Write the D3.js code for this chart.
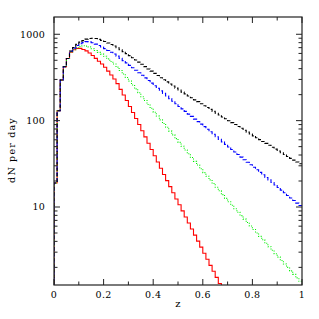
<!DOCTYPE html>
<html>
<head>
<meta charset="utf-8">
<script src="https://cdn.jsdelivr.net/npm/d3@7"></script>
<style>
body { margin: 0; background: #fff; }
text { font-family: "DejaVu Serif", serif; fill: #000; }
</style>
</head>
<body>
<div id="chart"></div>
<script>
// histogram of dN per day in redshift bins of 0.0125

var binWidth = 0.0125
var xTicks = [0, 0.2, 0.4, 0.6, 0.8, 1]
var xTickLabels = ['0', '0.2', '0.4', '0.6', '0.8', '1']
var yTicks = [10, 100, 1000]
var yTickLabels = ['10', '100', '1000']

// first bins are the same for all four curves
var rise = [19, 130, 295, 420, 525]

var redCounts = rise.concat([620, 661, 686, 687, 667, 642, 606, 567, 526, 488, 453,
    415, 374, 337, 304, 268, 230, 198, 171, 146, 124, 106, 90.2,
    76.5, 64.8, 54.8, 46.4, 39.2, 33.2, 28.1, 23.8, 20.2, 17.2, 14.6, 12.4,
    10.6, 9.02, 7.67, 6.53, 5.56, 4.73, 4.03, 3.43, 2.92, 2.48, 2.11, 1.80,
    1.53, 1.30, 1.11, 0.94, 0.80])

var greenCounts = rise.concat([625, 662, 697, 723, 736, 730, 714, 681, 649, 618, 589,
    556, 519, 484, 452, 417, 380, 347, 316, 287, 259, 233, 210,
    189, 171, 154, 139, 125, 113, 102, 92.7, 83.8, 75.7, 68.5, 61.9,
    56.0, 50.6, 45.8, 41.4, 37.4, 33.8, 30.6, 27.7, 25.0, 22.7, 20.6, 18.7,
    16.9, 15.4, 13.9, 12.6, 11.5, 10.5, 9.55, 8.71, 7.94, 7.24, 6.61, 6.03,
    5.50, 5.01, 4.57, 4.17, 3.80, 3.47, 3.16, 2.88, 2.63, 2.40, 2.19, 2.00,
    1.82, 1.66, 1.51, 1.38])

var blueCounts = rise.concat([635, 689, 740, 778, 801, 822, 816, 798, 769, 740, 713,
    683, 650, 619, 590, 558, 526, 495, 466, 437, 409, 383, 358,
    335, 313, 292, 272, 254, 237, 221, 207, 193, 180, 168, 157,
    146, 137, 128, 119, 112, 104, 97.5, 91.2, 85.2, 79.6, 74.4, 69.5,
    65.0, 60.7, 56.8, 53.1, 49.6, 46.3, 43.4, 40.5, 37.8, 35.3, 33.0, 30.9,
    28.9, 27.0, 25.2, 23.6, 22.0, 20.6, 19.2, 18.0, 16.8, 15.7, 14.6, 13.6,
    12.7, 11.9, 11.1, 10.4])

var blackCounts = rise.concat([640, 703, 763, 811, 845, 879, 893, 898, 892, 873, 851,
    825, 792, 761, 731, 698, 663, 629, 597, 566, 534, 504, 476,
    449, 422, 397, 374, 353, 333, 314, 297, 281, 266, 252, 238,
    226, 214, 204, 193, 184, 174, 166, 157, 149, 142, 135, 128,
    122, 116, 110, 105, 99.8, 94.8, 90.2, 85.7, 81.5, 77.5, 73.6, 70.0,
    66.7, 63.4, 60.3, 57.3, 54.5, 51.8, 49.2, 46.8, 44.6, 42.5, 40.5, 38.5,
    36.6, 34.9, 33.2, 31.7])

var series = [
    {name: 'red', counts: redCounts, color: '#ff0000', dash: null},
    {name: 'green', counts: greenCounts, color: '#00ee00', dash: '1,1.5'},
    {name: 'blue', counts: blueCounts, color: '#0000ff', dash: '4,2'},
    {name: 'black', counts: blackCounts, color: '#000000', dash: '3.5,2'}
]

var width = 319
var height = 319
var margin = {top: 17, right: 17, bottom: 34, left: 54}
var plotW = width - margin.left - margin.right
var plotH = height - margin.top - margin.bottom

var x = d3.scaleLinear().domain([0, 1]).range([0, plotW])
var y = d3.scaleLog().domain([1.25, 1585]).range([plotH, 0])

var svg = d3.select('#chart').append('svg')
    .attr('width', width)
    .attr('height', height)

svg.append('defs').append('clipPath')
    .attr('id', 'clip')
    .append('rect')
    .attr('width', plotW)
    .attr('height', plotH)

var g = svg.append('g')
    .attr('transform', 'translate(' + margin.left + ',' + margin.top + ')')

var floor = y.domain()[0] * 0.5

var stepLine = d3.line()
    .x(function(d) { return x(d[0]) })
    .y(function(d) { return y(Math.max(d[1], floor)) })
    .curve(d3.curveStepAfter)

var toPoints = function(counts) {
    var pts = [[0, floor]]
    for (var i = 0; i < counts.length; i++) {
        pts.push([i * binWidth, counts[i]])
    }
    pts.push([counts.length * binWidth, counts[counts.length - 1]])
    return pts
}

var lines = g.append('g').attr('clip-path', 'url(#clip)')
series.forEach(function(s) {
    lines.append('path')
        .attr('d', stepLine(toPoints(s.counts)))
        .attr('fill', 'none')
        .attr('stroke', s.color)
        .attr('stroke-width', 1.1)
        .attr('stroke-dasharray', s.dash)
})

// frame
g.append('rect')
    .attr('width', plotW)
    .attr('height', plotH)
    .attr('fill', 'none')
    .attr('stroke', '#222')
    .attr('stroke-width', 1.2)

// ticks on all four sides, pointing inward
var xMinor = d3.range(0, 1.0001, 0.1)
xMinor.forEach(function(v, i) {
    var len = (i % 2 == 0) ? 6 : 3.5
    g.append('line').attr('x1', x(v)).attr('x2', x(v)).attr('y1', plotH).attr('y2', plotH - len)
        .attr('stroke', '#222')
    g.append('line').attr('x1', x(v)).attr('x2', x(v)).attr('y1', 0).attr('y2', len)
        .attr('stroke', '#222')
})

var yMinor = []
;[1, 10, 100, 1000].forEach(function(dec) {
    for (var k = 1; k <= 9; k++) {
        var v = dec * k
        if (v >= y.domain()[0] && v <= y.domain()[1]) yMinor.push(v)
    }
})
yMinor.forEach(function(v) {
    var major = yTicks.indexOf(v) >= 0
    var len = major ? 6 : 3.5
    g.append('line').attr('x1', 0).attr('x2', len).attr('y1', y(v)).attr('y2', y(v))
        .attr('stroke', '#222')
    g.append('line').attr('x1', plotW).attr('x2', plotW - len).attr('y1', y(v)).attr('y2', y(v))
        .attr('stroke', '#222')
})

g.selectAll('.xlab')
    .data(xTicks)
    .enter().append('text')
    .attr('class', 'xlab')
    .attr('x', function(d) { return x(d) })
    .attr('y', plotH + 13)
    .attr('text-anchor', 'middle')
    .style('font-size', '9.5px')
    .style('letter-spacing', '0.4px')
    .text(function(d, i) { return xTickLabels[i] })

g.selectAll('.ylab')
    .data(yTicks)
    .enter().append('text')
    .attr('class', 'ylab')
    .attr('x', -9)
    .attr('y', function(d) { return y(d) + 3.3 })
    .attr('text-anchor', 'end')
    .style('font-size', '9.5px')
    .style('letter-spacing', '0.2px')
    .text(function(d, i) { return yTickLabels[i] })

g.append('text')
    .attr('x', plotW / 2)
    .attr('y', plotH + 22)
    .attr('text-anchor', 'middle')
    .style('font-size', '10px')
    .text('z')

svg.append('text')
    .attr('transform', 'translate(15,' + (margin.top + 133) + ') rotate(-90)')
    .attr('text-anchor', 'middle')
    .style('font-size', '9.5px')
    .style('letter-spacing', '1.2px')
    .text('dN per day')
</script>
</body>
</html>
